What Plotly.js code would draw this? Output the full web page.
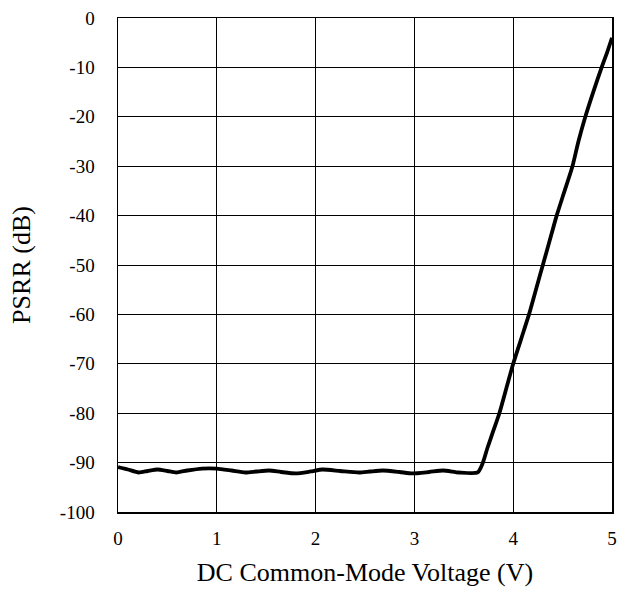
<!DOCTYPE html>
<html>
<head>
<meta charset="utf-8">
<script src="https://cdn.plot.ly/plotly-3.0.1.min.js"></script>
<style>html,body{margin:0;padding:0;background:#fff;}#chart{width:619px;height:592px;}</style>
</head>
<body>
<div id="chart"></div>
<script>
const voltage = [0,0.1,0.21,0.3,0.4,0.5,0.59,0.7,0.85,1.0,1.15,1.29,1.4,1.53,1.65,1.8,1.95,2.07,2.25,2.44,2.55,2.68,2.85,2.98,3.15,3.29,3.45,3.64,3.69,3.74,3.8,3.86,3.93,4.0,4.08,4.16,4.23,4.30,4.37,4.44,4.52,4.6,4.66,4.73,4.81,4.895,4.95,5.0];
const psrr = [-90.9,-91.4,-92.0,-91.7,-91.4,-91.7,-92.0,-91.6,-91.2,-91.2,-91.6,-92.0,-91.8,-91.6,-91.9,-92.2,-91.8,-91.4,-91.7,-92.0,-91.8,-91.6,-91.9,-92.2,-91.9,-91.6,-92.0,-92.0,-90.2,-87.0,-83.5,-80,-75,-70,-65,-60,-55,-50,-45,-40,-35,-30,-25,-20,-15,-10,-7,-4];
const xTicks = [0,1,2,3,4,5];
const yTicks = [0,-10,-20,-30,-40,-50,-60,-70,-80,-90,-100];

const font = "Times New Roman";
Plotly.newPlot('chart', [{
  x: voltage, y: psrr, mode: 'lines', type: 'scatter',
  line: {color: '#000', width: 3.8, shape: 'spline', smoothing: 0.6},
  hoverinfo: 'none'
}], {
  width: 619, height: 592,
  margin: {l: 118, r: 7, t: 18, b: 80},
  paper_bgcolor: '#fff', plot_bgcolor: '#fff',
  showlegend: false,
  font: {family: font, color: '#000', size: 19},
  xaxis: {
    range: [0, 5], tickvals: xTicks, ticktext: xTicks.map(String),
    showgrid: true, gridcolor: '#000', gridwidth: 1,
    showline: true, linecolor: '#000', linewidth: 1.5, mirror: true,
    zeroline: false, ticks: '', ticklabelstandoff: 9,
    tickfont: {family: font, size: 19, color: '#000'},
    title: {text: 'DC Common-Mode Voltage (V)', font: {family: font, size: 26, color: '#000'}, standoff: 14}
  },
  yaxis: {
    range: [-100, 0], tickvals: yTicks, ticktext: yTicks.map(String),
    showgrid: true, gridcolor: '#000', gridwidth: 1,
    showline: true, linecolor: '#000', linewidth: 1.5, mirror: true,
    zeroline: false, ticks: '', ticklabelstandoff: 18,
    tickfont: {family: font, size: 19, color: '#000'},
    title: {text: 'PSRR (dB)', font: {family: font, size: 26, color: '#000'}, standoff: 22}
  }
}, {staticPlot: true});
</script>
</body>
</html>
